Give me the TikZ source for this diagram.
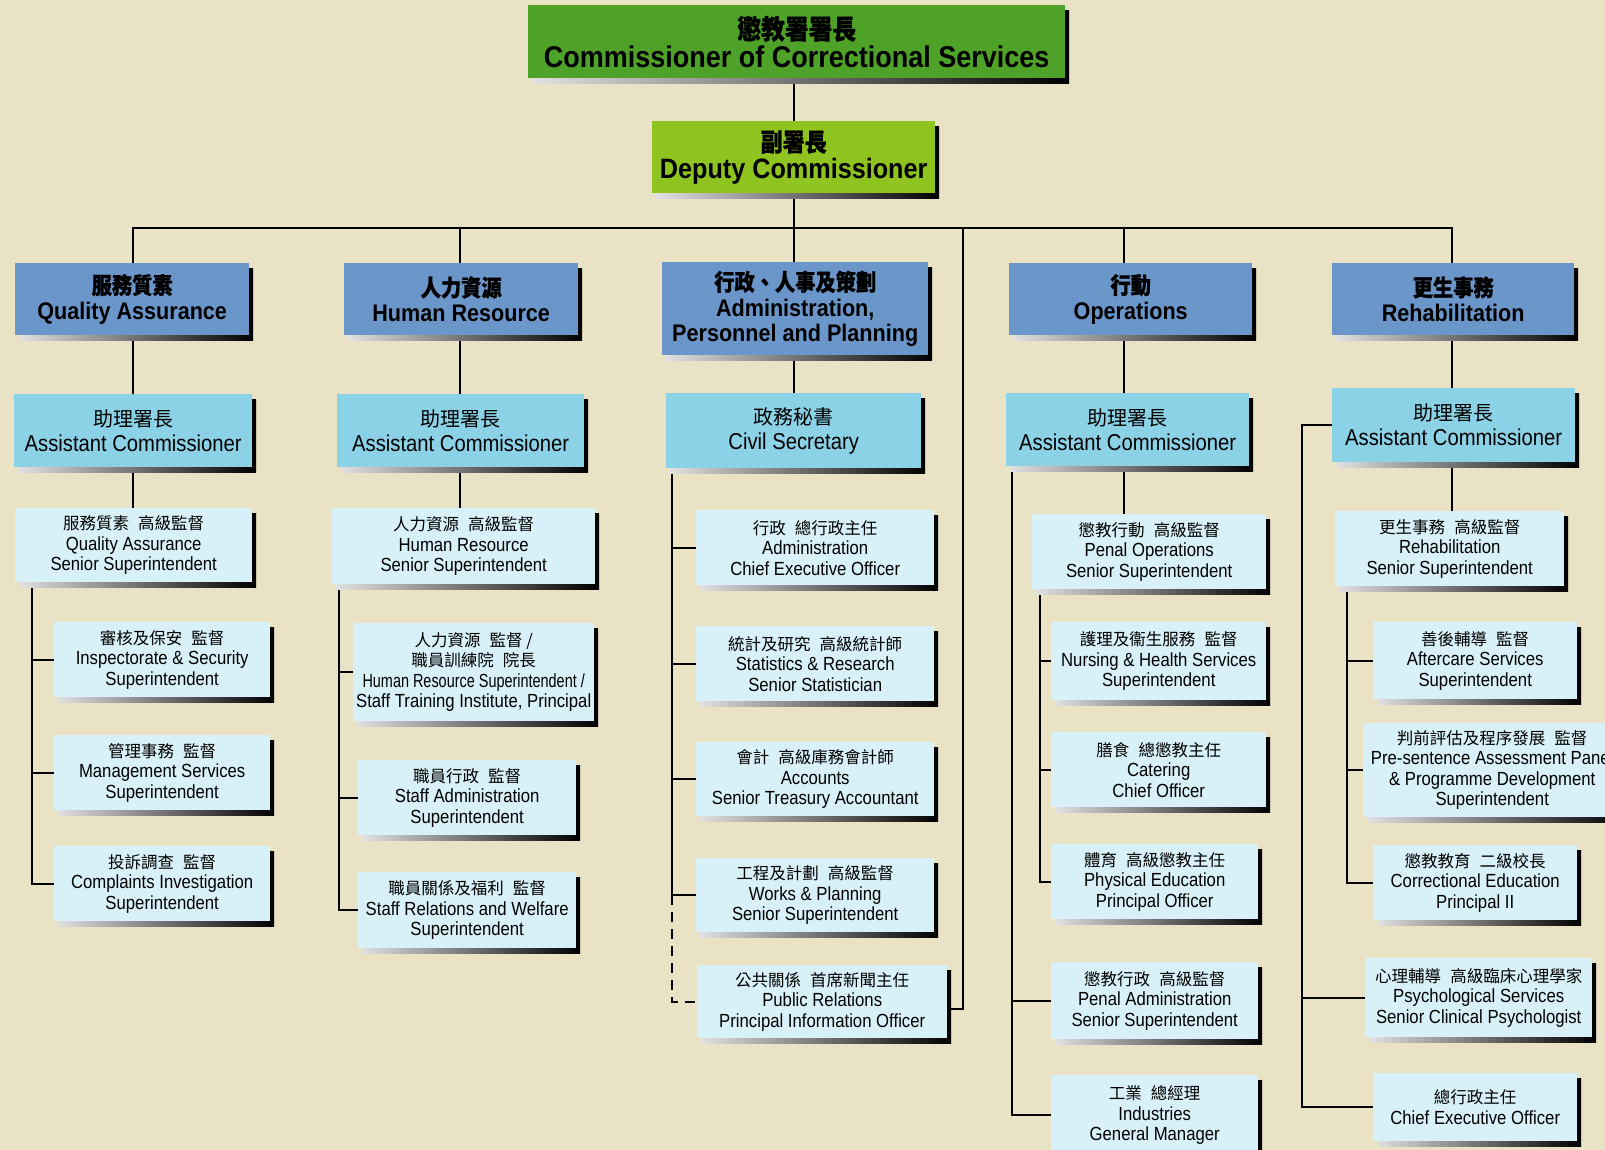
\documentclass[tikz,border=0pt]{standalone}
\usepackage{fontspec}
\setmainfont{Liberation Sans}
\newfontfamily\en[FakeStretch=0.88]{Liberation Sans}
\newfontfamily\enc[FakeStretch=0.76]{Liberation Sans}
\newfontfamily\enh[FakeStretch=0.9]{Liberation Sans}
\newfontfamily\cj{Noto Sans CJK TC}
\newfontfamily\cjh[FakeStretch=0.88,FakeBold=0.8]{Noto Sans CJK TC}
\usetikzlibrary{shadows,calc}
\pgfdeclarelayer{bgfill}
\pgfdeclarelayer{background}
\pgfsetlayers{bgfill,background,main}
\definecolor{bgc}{HTML}{EAE2C5}
\definecolor{cgreen}{HTML}{4EA227}
\definecolor{cyg}{HTML}{8FC31F}
\definecolor{cdiv}{HTML}{6A96CA}
\definecolor{cac}{HTML}{8CD2E6}
\definecolor{clow}{HTML}{D8F0F7}
\newcommand\gap{\hspace{0.55em}}
\newcommand\zh[1]{{\cj\fontsize{16.5}{20.5}\selectfont #1}}
\newcommand\zhac[1]{{\cj\fontsize{20}{25}\selectfont #1}}
\newcommand\zhh[2]{{\cjh\bfseries\fontsize{#1}{#1}\selectfont #2}}
\newcommand\bx[7]{\node[#1, minimum width=#5pt, minimum height=#6pt] (#2) at (#3,#4) {#7};}
\tikzset{
  orgbox/.style={inner sep=0pt, anchor=north west, align=center, text=black,
    general shadow={shadow xshift=4pt, shadow yshift=-5pt, left color=black!12, right color=black}},
  topbox/.style={orgbox, fill=cgreen, font=\enh\bfseries\fontsize{30}{28}\selectfont},
  depbox/.style={orgbox, fill=cyg, font=\enh\bfseries\fontsize{28}{27}\selectfont},
  divbox/.style={orgbox, fill=cdiv, font=\enh\bfseries\fontsize{24}{25.5}\selectfont},
  acbox/.style={orgbox, fill=cac, font=\en\fontsize{23}{25}\selectfont},
  lowbox/.style={orgbox, fill=clow, font=\en\fontsize{19}{20.5}\selectfont},
  ln/.style={line width=2.2pt, black},
}
\begin{document}
\begin{tikzpicture}[x=1pt,y=-1pt]
\useasboundingbox (0,0) rectangle (1605,1150);
\begin{pgfonlayer}{bgfill}
\fill[bgc] (0,0) rectangle (1605,1150);
\end{pgfonlayer}
% reference coordinates for vertical lines
\coordinate (bar) at (0,228);
\coordinate (vQ) at (133,0);
\coordinate (vH) at (460,0);
\coordinate (vA) at (794,0);
\coordinate (vL) at (963,0);
\coordinate (vO) at (1124,0);
\coordinate (vR) at (1452,0);
\coordinate (bQ) at (32,0);
\coordinate (bH) at (339,0);
\coordinate (bC) at (672,0);
\coordinate (bO) at (1012,0);
\coordinate (bP) at (1040,0);
\coordinate (bR) at (1302,0);
\coordinate (bS) at (1347,0);
% top
\bx{topbox}{comm}{528}{5}{537}{73}{\zhh{27}{懲教署署長}\\Commissioner of Correctional Services}
\bx{depbox}{dep}{652}{121}{283}{72}{\zhh{25}{副署長}\\Deputy Commissioner}
% divisions
\bx{divbox}{qa}{15}{263}{234}{72}{\zhh{23}{服務質素}\\Quality Assurance}
\bx{divbox}{hr}{344}{263}{234}{72}{\zhh{23}{人力資源}\\Human Resource}
\bx{divbox}{adm}{662}{262}{266}{93}{\zhh{23}{行政、人事及策劃}\\Administration,\\Personnel and Planning}
\bx{divbox}{ops}{1009}{263}{243}{72}{\zhh{23}{行動}\\Operations}
\bx{divbox}{reh}{1332}{263}{242}{72}{\zhh{23}{更生事務}\\Rehabilitation}
% assistant commissioners
\bx{acbox}{qaac}{14}{394}{238}{73}{\zhac{助理署長}\\Assistant Commissioner}
\bx{acbox}{hrac}{337}{394}{247}{73}{\zhac{助理署長}\\Assistant Commissioner}
\bx{acbox}{cs}{666}{393}{255}{75}{\zhac{政務秘書}\\Civil Secretary}
\bx{acbox}{opsac}{1006}{393}{243}{73}{\zhac{助理署長}\\Assistant Commissioner}
\bx{acbox}{rehac}{1332}{388}{243}{74}{\zhac{助理署長}\\Assistant Commissioner}
% QA column
\bx{lowbox}{qass}{15}{508}{237}{74}{\zh{服務質素\gap 高級監督}\\Quality Assurance\\Senior Superintendent}
\bx{lowbox}{qa1}{54}{622}{216}{75}{\zh{審核及保安\gap 監督}\\Inspectorate \& Security\\Superintendent}
\bx{lowbox}{qa2}{54}{735}{216}{75}{\zh{管理事務\gap 監督}\\Management Services\\Superintendent}
\bx{lowbox}{qa3}{54}{846}{216}{75}{\zh{投訴調查\gap 監督}\\Complaints Investigation\\Superintendent}
% HR column
\bx{lowbox}{hrss}{332}{508}{263}{76}{\zh{人力資源\gap 高級監督}\\Human Resource\\Senior Superintendent}
\bx{lowbox}{hr1}{353}{623}{241}{98}{\zh{人力資源\gap 監督 /}\\\zh{職員訓練院\gap 院長}\\{\enc Human Resource Superintendent /}\\{\fontsize{19}{20.5}\selectfont Staff Training Institute, Principal}}
\bx{lowbox}{hr2}{358}{760}{218}{75}{\zh{職員行政\gap 監督}\\Staff Administration\\Superintendent}
\bx{lowbox}{hr3}{358}{872}{218}{76}{\zh{職員關係及福利\gap 監督}\\Staff Relations and Welfare\\Superintendent}
% Admin column
\bx{lowbox}{ad1}{696}{510}{238}{75}{\zh{行政\gap 總行政主任}\\Administration\\Chief Executive Officer}
\bx{lowbox}{ad2}{696}{626}{238}{75}{\zh{統計及研究\gap 高級統計師}\\Statistics \& Research\\Senior Statistician}
\bx{lowbox}{ad3}{696}{742}{238}{74}{\zh{會計\gap 高級庫務會計師}\\Accounts\\Senior Treasury Accountant}
\bx{lowbox}{ad4}{696}{858}{238}{74}{\zh{工程及計劃\gap 高級監督}\\Works \& Planning\\Senior Superintendent}
\bx{lowbox}{ad5}{697}{965}{250}{73}{\zh{公共關係\gap 首席新聞主任}\\Public Relations\\Principal Information Officer}
% Operations column
\bx{lowbox}{opss}{1032}{514}{234}{75}{\zh{懲教行動\gap 高級監督}\\Penal Operations\\Senior Superintendent}
\bx{lowbox}{op1}{1051}{622}{215}{78}{\zh{護理及衞生服務\gap 監督}\\Nursing \& Health Services\\Superintendent}
\bx{lowbox}{op2}{1051}{732}{215}{75}{\zh{膳食\gap 總懲教主任}\\Catering\\Chief Officer}
\bx{lowbox}{op3}{1051}{844}{207}{75}{\zh{體育\gap 高級懲教主任}\\Physical Education\\Principal Officer}
\bx{lowbox}{op4}{1051}{962}{207}{77}{\zh{懲教行政\gap 高級監督}\\Penal Administration\\Senior Superintendent}
\bx{lowbox}{op5}{1051}{1075}{207}{80}{\zh{工業\gap 總經理}\\Industries\\General Manager}
% Rehabilitation column
\bx{lowbox}{rhss}{1335}{511}{229}{75}{\zh{更生事務\gap 高級監督}\\Rehabilitation\\Senior Superintendent}
\bx{lowbox}{rh1}{1373}{622}{204}{77}{\zh{善後輔導\gap 監督}\\Aftercare Services\\Superintendent}
\bx{lowbox}{rh2}{1363}{723}{258}{94}{\zh{判前評估及程序發展\gap 監督}\\Pre-sentence Assessment Panel\\\& Programme Development\\Superintendent}
\bx{lowbox}{rh3}{1373}{845}{204}{75}{\zh{懲教教育\gap 二級校長}\\Correctional Education\\Principal II}
\bx{lowbox}{rh4}{1365}{958}{227}{79}{\zh{心理輔導\gap 高級臨床心理學家}\\Psychological Services\\Senior Clinical Psychologist}
\bx{lowbox}{rh5}{1373}{1073}{204}{68}{\zh{總行政主任}\\Chief Executive Officer}
% connectors
\begin{pgfonlayer}{background}
\draw[ln] (comm.south -| vA) -- (dep.north -| vA);
\draw[ln] (dep.south -| vA) -- (adm.north -| vA);
\draw[ln] (qa.north -| vQ) -- (vQ |- bar) -- (vR |- bar) -- (reh.north -| vR);
\draw[ln] (hr.north -| vH) -- (vH |- bar);
\draw[ln] (ops.north -| vO) -- (vO |- bar);
\draw[ln] (vL |- bar) |- ($(ad5.east)+(0,7)$);
% division to AC
\draw[ln] (qa.south -| vQ) -- (qaac.north -| vQ);
\draw[ln] (hr.south -| vH) -- (hrac.north -| vH);
\draw[ln] (adm.south -| vA) -- (cs.north -| vA);
\draw[ln] (ops.south -| vO) -- (opsac.north -| vO);
\draw[ln] (reh.south -| vR) -- (rehac.north -| vR);
% AC to senior superintendents
\draw[ln] (qaac.south -| vQ) -- (qass.north -| vQ);
\draw[ln] (hrac.south -| vH) -- (hrss.north -| vH);
\draw[ln] (opsac.south -| vO) -- (opss.north -| vO);
\draw[ln] (rehac.south -| vR) -- (rhss.north -| vR);
% QA bracket
\draw[ln] (qass.south -| bQ) |- (qa3.west);
\draw[ln] (bQ |- qa1.west) -- (qa1.west);
\draw[ln] (bQ |- qa2.west) -- (qa2.west);
% HR bracket
\draw[ln] (hrss.south -| bH) |- (hr3.west);
\draw[ln] (bH |- hr1.west) -- (hr1.west);
\draw[ln] (bH |- hr2.west) -- (hr2.west);
% Civil Secretary bracket
\draw[ln] (cs.south -| bC) |- (ad4.west);
\draw[ln] (bC |- ad1.west) -- (ad1.west);
\draw[ln] (bC |- ad2.west) -- (ad2.west);
\draw[ln] (bC |- ad3.west) -- (ad3.west);
\draw[ln, dash pattern=on 10pt off 7pt] (bC |- ad4.west) -- (bC |- ad5.west) -- (ad5.west);
% Operations AC bracket
\draw[ln] (opsac.south -| bO) |- (op5.west);
\draw[ln] (bO |- op4.west) -- (op4.west);
% Penal Operations SS bracket
\draw[ln] (opss.south -| bP) |- (op3.west);
\draw[ln] (bP |- op1.west) -- (op1.west);
\draw[ln] (bP |- op2.west) -- (op2.west);
% Rehabilitation AC bracket
\draw[ln] (rehac.west) -| (bR |- rh5.west) -- (rh5.west);
\draw[ln] (bR |- rh4.west) -- (rh4.west);
% Rehabilitation SS bracket
\draw[ln] (rhss.south -| bS) |- (rh3.west);
\draw[ln] (bS |- rh1.west) -- (rh1.west);
\draw[ln] (bS |- rh2.west) -- (rh2.west);
\end{pgfonlayer}
\end{tikzpicture}
\end{document}
